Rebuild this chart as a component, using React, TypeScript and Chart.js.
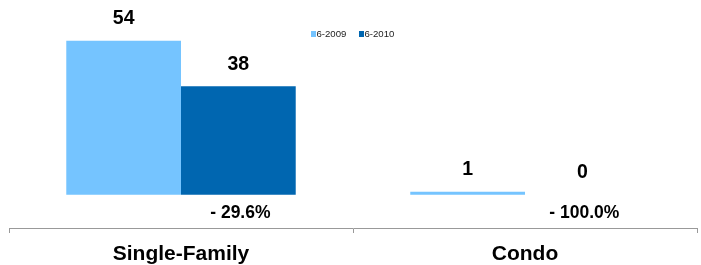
import React, { useEffect, useRef } from "react";
import { Chart, registerables } from "chart.js";

Chart.register(...registerables);

const categories = ["Single-Family", "Condo"];
const seriesNames = ["6-2009", "6-2010"];
const values2009 = [54, 1];
const values2010 = [38, 0];
const changeLabels = ["- 29.6%", "- 100.0%"];
const colors = ["#75C4FF", "#0066B0"];
const FONT = "'Liberation Sans', Arial, sans-serif";

const labelsPlugin = {
  id: "customLabels",
  afterDatasetsDraw(chart: any) {
    const ctx = chart.ctx;
    ctx.save();
    ctx.fillStyle = "#000";
    ctx.textAlign = "center";
    ctx.textBaseline = "middle";
    ctx.font = `bold 19.5px ${FONT}`;
    chart.data.datasets.forEach((ds: any, di: number) => {
      const meta = chart.getDatasetMeta(di);
      meta.data.forEach((bar: any, i: number) => {
        ctx.fillText(String(ds.data[i]), bar.x, bar.y - 22);
      });
    });
    const base = chart.scales.y.getPixelForValue(0);
    ctx.font = `bold 17.5px ${FONT}`;
    const meta2 = chart.getDatasetMeta(1);
    meta2.data.forEach((bar: any, i: number) => {
      ctx.fillText(changeLabels[i], bar.x + 2, base + 19);
    });
    // legend
    ctx.font = `9.6px ${FONT}`;
    ctx.textAlign = "left";
    const lx = [311, 359];
    seriesNames.forEach((name, i) => {
      ctx.fillStyle = colors[i];
      ctx.fillRect(lx[i], 31, 5, 6);
      ctx.fillStyle = "#222";
      ctx.fillText(name, lx[i] + 5.5, 34);
    });
    ctx.restore();
  },
};

export default function App() {
  const ref = useRef<HTMLCanvasElement>(null);
  useEffect(() => {
    document.body.style.margin = "0";
    const chart = new Chart(ref.current!, {
      type: "bar",
      data: {
        labels: categories,
        datasets: [
          { label: seriesNames[0], data: values2009, backgroundColor: colors[0], borderWidth: 0 },
          { label: seriesNames[1], data: values2010, backgroundColor: colors[1], borderWidth: 0 },
        ],
      },
      options: {
        animation: false,
        responsive: false,
        layout: { padding: { left: 9, right: 4, top: 0, bottom: 0 } },
        datasets: { bar: { categoryPercentage: 0.667, barPercentage: 1, base: 0 } },
        plugins: { legend: { display: false }, tooltip: { enabled: false } },
        scales: {
          x: {
            offset: true,
            grid: { display: true, drawOnChartArea: false, drawTicks: true, tickLength: 5, color: "#999", offset: true },
            border: { display: true, color: "#999", width: 1 },
            ticks: { color: "#000", padding: 9, font: { family: FONT, size: 21, weight: "bold" } },
            afterFit: (scale: any) => {
              scale.height = 37;
            },
          },
          y: { display: false, min: -11.7, max: 68.3 },
        },
      },
      plugins: [labelsPlugin],
    } as any);
    return () => chart.destroy();
  }, []);
  return (
    <canvas
      ref={ref}
      width={701}
      height={265}
      style={{ position: "absolute", left: 0, top: 0, display: "block" }}
    />
  );
}
